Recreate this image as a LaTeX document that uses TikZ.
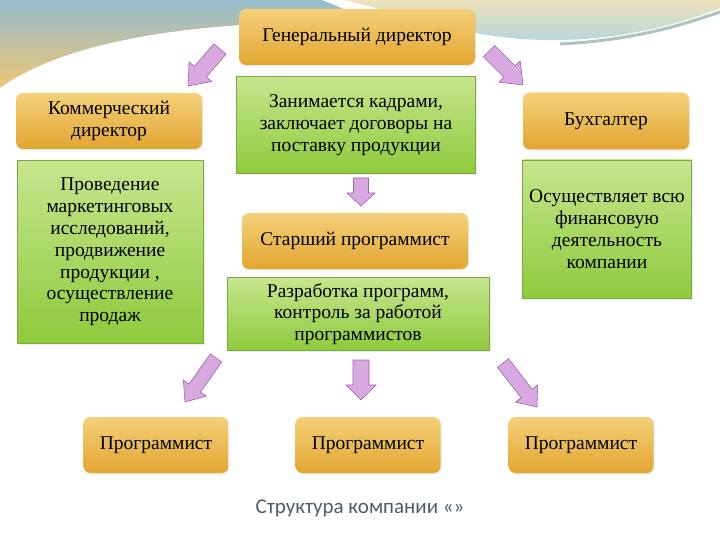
\documentclass[tikz,border=0pt]{standalone}
\usepackage{fontspec}
\setmainfont{Liberation Serif}
\newfontfamily\captionfont{Carlito}
\usetikzlibrary{calc,shadows}
\definecolor{bgblue}{RGB}{150,188,204}
\definecolor{bgtan}{RGB}{238,198,118}
\definecolor{bgbeige}{RGB}{236,226,188}
\definecolor{bgsky}{RGB}{170,212,226}
\definecolor{swoosh}{RGB}{140,170,160}
\definecolor{goldtop}{RGB}{244,208,122}
\definecolor{goldbot}{RGB}{226,166,48}
\definecolor{leaftop}{RGB}{198,230,142}
\definecolor{leafbot}{RGB}{142,202,60}
\definecolor{leafline}{RGB}{124,168,64}
\definecolor{lilac}{RGB}{216,168,224}
\definecolor{lilacline}{RGB}{158,100,170}
\definecolor{captiongray}{RGB}{78,92,106}
\begin{document}
\begin{tikzpicture}[x=1pt,y=-1pt]
	\tikzstyle{post}=[rounded corners=7pt,top color=goldtop,bottom color=goldbot,align=center,inner sep=2pt,font=\fontsize{19.5}{21.8}\selectfont,drop shadow={opacity=0.15,shadow xshift=1pt,shadow yshift=-1.5pt}]
	\tikzstyle{duty}=[draw=leafline,line width=0.6pt,top color=leaftop,bottom color=leafbot,align=center,inner sep=2pt,font=\fontsize{19.5}{21.8}\selectfont,drop shadow={opacity=0.15,shadow xshift=1.5pt,shadow yshift=-1.5pt}]
	\tikzstyle{pointer}=[fill=lilac,draw=lilacline,line width=0.6pt,line join=miter]
	\newcommand*{\blockarrow}[5]{
		\coordinate (neck) at ($(#2)!#5!(#1)$);
		\filldraw[pointer] ($(#1)!#3!90:(#2)$) -- ($(neck)!#3!-90:(#1)$) -- ($(neck)!#4!-90:(#1)$) -- (#2) -- ($(neck)!#4!90:(#1)$) -- ($(neck)!#3!90:(#1)$) -- ($(#1)!#3!-90:(#2)$) -- cycle;
	}
	\useasboundingbox (0,0) rectangle (720,540);
	\fill[white] (0,0) rectangle (720,540);
	\shade[top color=bgblue,bottom color=bgtan] (0,0) -- (322,0) -- (380,24) .. controls (250,18) and (80,30) .. (0,88) -- cycle;
	\shade[top color=bgbeige,bottom color=bgsky] (345,0) -- (720,0) -- (720,8) .. controls (650,36) and (560,50) .. (470,32) -- cycle;
	\draw[swoosh,line width=3pt,opacity=0.7] (560,44) .. controls (640,40) and (690,22) .. (720,12);

	\node[post,minimum width=236pt,minimum height=56pt] (gd) at (357,37) {Генеральный директор};
	\node[post,minimum width=186pt,minimum height=56pt] (kd) at (109,121) {Коммерческий\\директор};
	\node[post,minimum width=166pt,minimum height=57pt] (buh) at (606,121) {Бухгалтер};
	\node[post,minimum width=226pt,minimum height=56pt] (sp) at (355,241) {Старший программист};
	\node[post,minimum width=145pt,minimum height=56pt] (p1) at (156,445) {Программист};
	\node[post,minimum width=145pt,minimum height=56pt] (p2) at (368,445) {Программист};
	\node[post,minimum width=145pt,minimum height=56pt] (p3) at (581,445) {Программист};

	\node[duty,minimum width=239pt,minimum height=97pt] (zan) at (356,125) {Занимается кадрами,\\заключает договоры на\\поставку продукции};
	\node[duty,minimum width=186pt,minimum height=183pt] (prov) at (110,252) {Проведение\\маркетинговых\\исследований,\\продвижение\\продукции ,\\осуществление\\продаж};
	\node[duty,minimum width=169pt,minimum height=138pt] (osu) at (607,229) {Осуществляет всю\\финансовую\\деятельность\\компании};
	\node[duty,minimum width=262pt,minimum height=73pt] (raz) at (358,314) {Разработка программ,\\контроль за работой\\программистов};

	\coordinate (gd_l) at (220,49);
	\coordinate (kd_in) at (188,86);
	\coordinate (gd_r) at (489,51);
	\coordinate (buh_in) at (523,85);
	\coordinate (zan_out) at (361,178);
	\coordinate (sp_in) at (361,206);
	\coordinate (raz_l) at (216,358);
	\coordinate (p1_in) at (185,402);
	\coordinate (raz_m) at (361,360);
	\coordinate (p2_in) at (361,400);
	\coordinate (raz_r) at (503,363);
	\coordinate (p3_in) at (537,407);
	\blockarrow{gd_l}{kd_in}{8pt}{15pt}{19pt}
	\blockarrow{gd_r}{buh_in}{8pt}{15pt}{19pt}
	\blockarrow{zan_out}{sp_in}{7.5pt}{14pt}{13pt}
	\blockarrow{raz_l}{p1_in}{7pt}{14pt}{17pt}
	\blockarrow{raz_m}{p2_in}{8pt}{15pt}{15pt}
	\blockarrow{raz_r}{p3_in}{7pt}{14pt}{17pt}

	\node[font=\captionfont\fontsize{21}{25}\selectfont,text=captiongray] (title) at (360,508) {Структура компании «»};
\end{tikzpicture}
\end{document}
